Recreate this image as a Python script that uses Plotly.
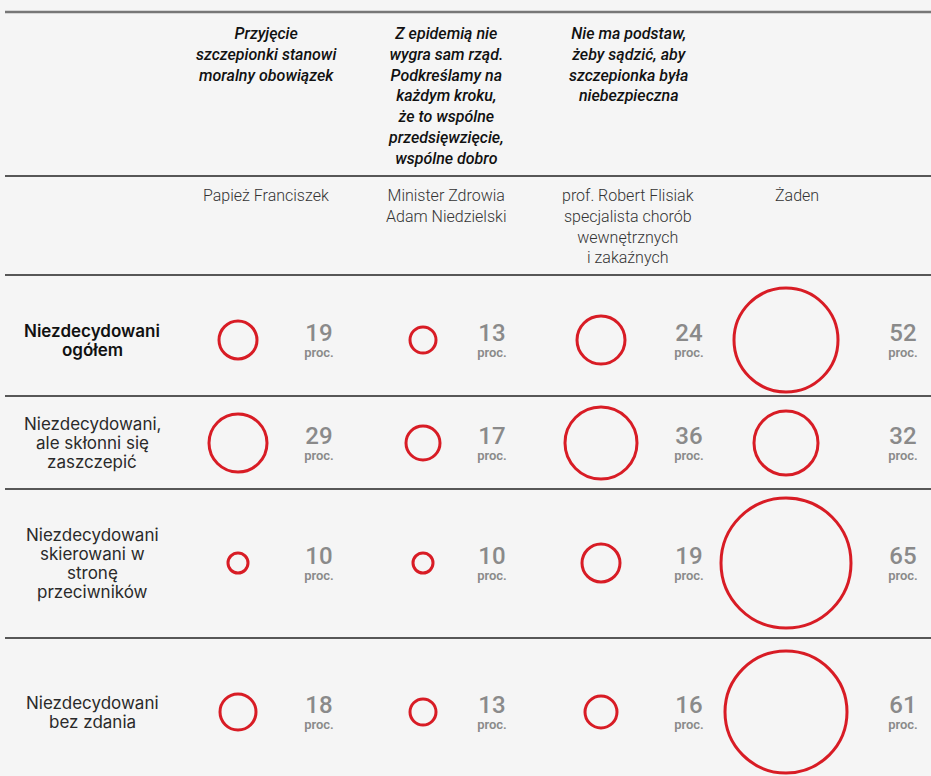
import plotly.graph_objects as go

# data
rows = [
    ["Niezdecydowani", "ogółem"],
    ["Niezdecydowani,", "ale skłonni się", "zaszczepić"],
    ["Niezdecydowani", "skierowani w", "stronę", "przeciwników"],
    ["Niezdecydowani", "bez zdania"],
]
quotes = [
    "Przyjęcie<br>szczepionki stanowi<br>moralny obowiązek",
    "Z epidemią nie<br>wygra sam rząd.<br>Podkreślamy na<br>każdym kroku,<br>że to wspólne<br>przedsięwzięcie,<br>wspólne dobro",
    "Nie ma podstaw,<br>żeby sądzić, aby<br>szczepionka była<br>niebezpieczna",
    "",
]
speakers = [
    "Papież Franciszek",
    "Minister Zdrowia<br>Adam Niedzielski",
    "prof. Robert Flisiak<br>specjalista chorób<br>wewnętrznych<br>i zakaźnych",
    "Żaden",
]
val_papiez = [19, 29, 10, 18]
val_minister = [13, 17, 10, 13]
val_flisiak = [24, 36, 19, 16]
val_zaden = [52, 32, 65, 61]
values = [val_papiez, val_minister, val_flisiak, val_zaden]

# layout (pixel grid, 1 unit = 1 px)
W, H = 931, 776
BG = "#f5f5f5"
RED = "#d81c25"
GREY = "#8a8a8a"
row_y = [340, 443, 563, 712]
circle_x = [238, 423, 601, 786]
num_x = [319, 492, 689, 903]
head_x = [266, 446, 628, 797]
label_x = 92
line_gap = 19
sep_y = [176, 275, 396, 489, 638]

fig = go.Figure()

for j, col in enumerate(values):
    fig.add_trace(go.Scatter(
        x=[circle_x[j]] * len(col), y=row_y, mode="markers",
        marker=dict(symbol="circle-open", size=[2 * v for v in col], color=RED,
                    opacity=1, line=dict(width=3)),
        hoverinfo="text", text=[f"{v} proc." for v in col], showlegend=False,
    ))
    fig.add_trace(go.Scatter(
        x=[num_x[j]] * len(col), y=[y - 5 for y in row_y], mode="text",
        text=[str(v) for v in col],
        textfont=dict(family="Roboto", size=24, color=GREY, weight=500),
        hoverinfo="skip", showlegend=False,
    ))
    fig.add_trace(go.Scatter(
        x=[num_x[j]] * len(col), y=[y + 14 for y in row_y], mode="text",
        text=["proc."] * len(col),
        textfont=dict(family="Roboto", size=13, color=GREY, weight=600),
        hoverinfo="skip", showlegend=False,
    ))

annotations = []
for i, lines in enumerate(rows):
    top = row_y[i] - (len(lines) - 1) * line_gap / 2
    for k, txt in enumerate(lines):
        annotations.append(dict(
            x=label_x, y=top + k * line_gap, text=txt, showarrow=False,
            xanchor="center", yanchor="middle",
            font=dict(family="Inter", size=17, color="#111" if i == 0 else "#2a2a2a",
                      weight=600 if i == 0 else 400),
        ))
for j in range(4):
    if quotes[j]:
        annotations.append(dict(
            x=head_x[j], y=22, text=quotes[j], showarrow=False, xanchor="center", yanchor="top",
            font=dict(family="Roboto", size=16, color="#111", style="italic", weight=500),
        ))
    annotations.append(dict(
        x=head_x[j], y=184, text=speakers[j], showarrow=False, xanchor="center", yanchor="top",
        font=dict(family="Roboto", size=16, color="#333", weight=300),
    ))

shapes = [dict(type="line", x0=5, x1=W, y0=12, y1=12, line=dict(color="#777", width=2.5))]
for y in sep_y:
    shapes.append(dict(type="line", x0=5, x1=W, y0=y, y1=y, line=dict(color="#222", width=1.3)))

fig.update_layout(
    width=W, height=H, margin=dict(l=0, r=0, t=0, b=0),
    paper_bgcolor=BG, plot_bgcolor=BG,
    xaxis=dict(range=[0, W], visible=False, fixedrange=True),
    yaxis=dict(range=[H, 0], visible=False, fixedrange=True),
    annotations=annotations, shapes=shapes,
)

fig.write_html("out.html", config={"displayModeBar": False},
               post_script="document.body.style.margin='0';")
